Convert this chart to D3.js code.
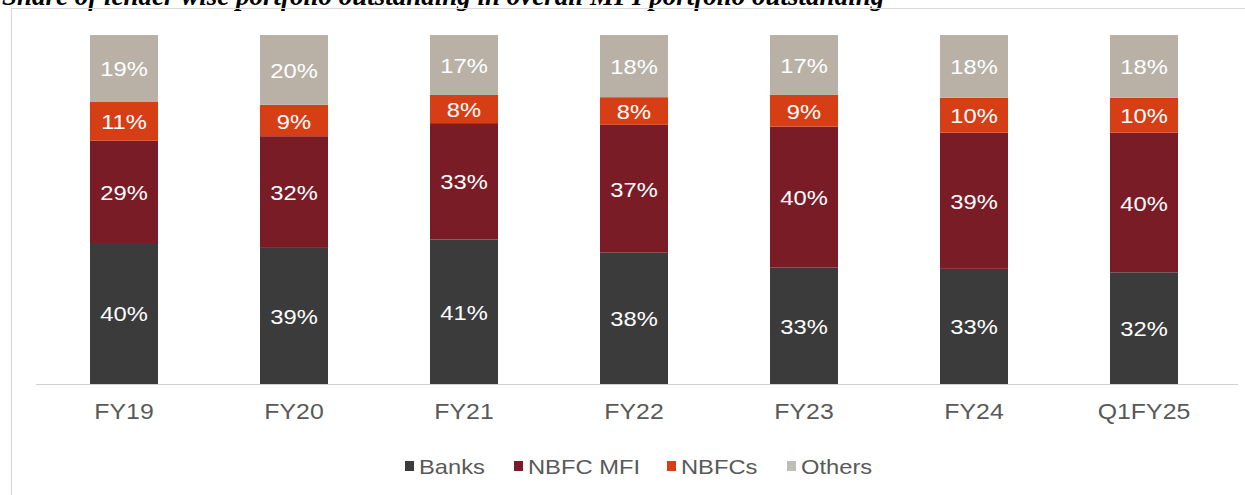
<!DOCTYPE html>
<html>
<head>
<meta charset="utf-8">
<script src="https://cdn.jsdelivr.net/npm/d3@7"></script>
<style>
body { margin: 0; background: #fff; }
</style>
</head>
<body>
<div id="chart"></div>
<script>
// Data
let categories = ['FY19', 'FY20', 'FY21', 'FY22', 'FY23', 'FY24', 'Q1FY25'];
let seriesNames = ['Banks', 'NBFC MFI', 'NBFCs', 'Others'];
let banks   = [40, 39, 41, 38, 33, 33, 32];
let nbfcMfi = [29, 32, 33, 37, 40, 39, 40];
let nbfcs   = [11, 9, 8, 8, 9, 10, 10];
let others  = [19, 20, 17, 18, 17, 18, 18];
let colors = ['#3b3b3b', '#7a1c26', '#d63f16', '#b9b1a6'];
let legendColors = ['#3b3b3b', '#7a1c26', '#d63f16', '#c0bcb6'];

let width = 1245;
let height = 495;
let font = 'Liberation Sans, Arial, sans-serif';
let stretch = 'scale(1.13,1)';

let svg = d3.select('#chart')
	.append('svg')
	.attr('width', width)
	.attr('height', height)
	.style('display', 'block');

// Title (clipped at top like the source)
svg.append('text')
	.attr('x', 2)
	.attr('y', 5)
	.attr('font-family', 'Liberation Serif, Times New Roman, serif')
	.attr('font-weight', 'bold')
	.attr('font-style', 'italic')
	.attr('font-size', 27)
	.attr('fill', '#000')
	.text('Share of lender wise portfolio outstanding in overall MFI portfolio outstanding');

// Frame
svg.append('path')
	.attr('d', 'M11.5,' + height + ' V8.5 H' + width)
	.attr('fill', 'none')
	.attr('stroke', '#d9d9d9')
	.attr('stroke-width', 1.2);

// Build table
let table = categories.map(function (c, i) {
	let vals = [banks[i], nbfcMfi[i], nbfcs[i], others[i]];
	let total = d3.sum(vals);
	let row = { cat: c };
	seriesNames.forEach(function (s, j) {
		row[s] = vals[j];
		row[s + '_n'] = vals[j] / total;
	});
	return row;
});

let stack = d3.stack().keys(seriesNames.map(function (s) { return s + '_n'; }));
let stacked = stack(table);

let x = d3.scaleBand()
	.domain(categories)
	.range([39, 1229])
	.paddingInner(0.6)
	.paddingOuter(0.3);

let y = d3.scaleLinear()
	.domain([0, 1])
	.range([384, 35]);

let g = svg.append('g');

stacked.forEach(function (layer, j) {
	let lg = g.append('g').attr('fill', colors[j]);
	lg.selectAll('rect')
		.data(layer)
		.enter()
		.append('rect')
		.attr('x', function (d) { return x(d.data.cat); })
		.attr('y', function (d) { return y(d[1]); })
		.attr('width', x.bandwidth())
		.attr('height', function (d) { return y(d[0]) - y(d[1]); });

	g.append('g').selectAll('text')
		.data(layer)
		.enter()
		.append('text')
		.attr('transform', function (d) {
			let cx = x(d.data.cat) + x.bandwidth() / 2;
			let cy = (y(d[0]) + y(d[1])) / 2 + 8;
			return 'translate(' + cx + ',' + cy + ') ' + stretch;
		})
		.attr('text-anchor', 'middle')
		.attr('font-family', font)
		.attr('font-size', 21)
		.attr('fill', '#fff')
		.text(function (d) { return d.data[seriesNames[j]] + '%'; });
});

// Axis
let axis = svg.append('g')
	.attr('transform', 'translate(0,384)')
	.call(d3.axisBottom(x).tickSize(0).tickPadding(19));
axis.select('.domain')
	.attr('stroke', '#d0d0d0')
	.attr('stroke-width', 1.2)
	.attr('d', 'M36,0.5H1238');
axis.selectAll('text')
	.attr('font-family', font)
	.attr('font-size', 22)
	.attr('fill', '#595959')
	.attr('transform', stretch);

// Legend
let legendX = [405, 514, 667, 787];
let legend = svg.append('g');
seriesNames.forEach(function (s, i) {
	legend.append('rect')
		.attr('x', legendX[i])
		.attr('y', 461)
		.attr('width', 9)
		.attr('height', 10)
		.attr('fill', legendColors[i]);
	legend.append('text')
		.attr('transform', 'translate(' + (legendX[i] + 14) + ',474) ' + stretch)
		.attr('font-family', font)
		.attr('font-size', 21)
		.attr('fill', '#595959')
		.text(s);
});
</script>
</body>
</html>
